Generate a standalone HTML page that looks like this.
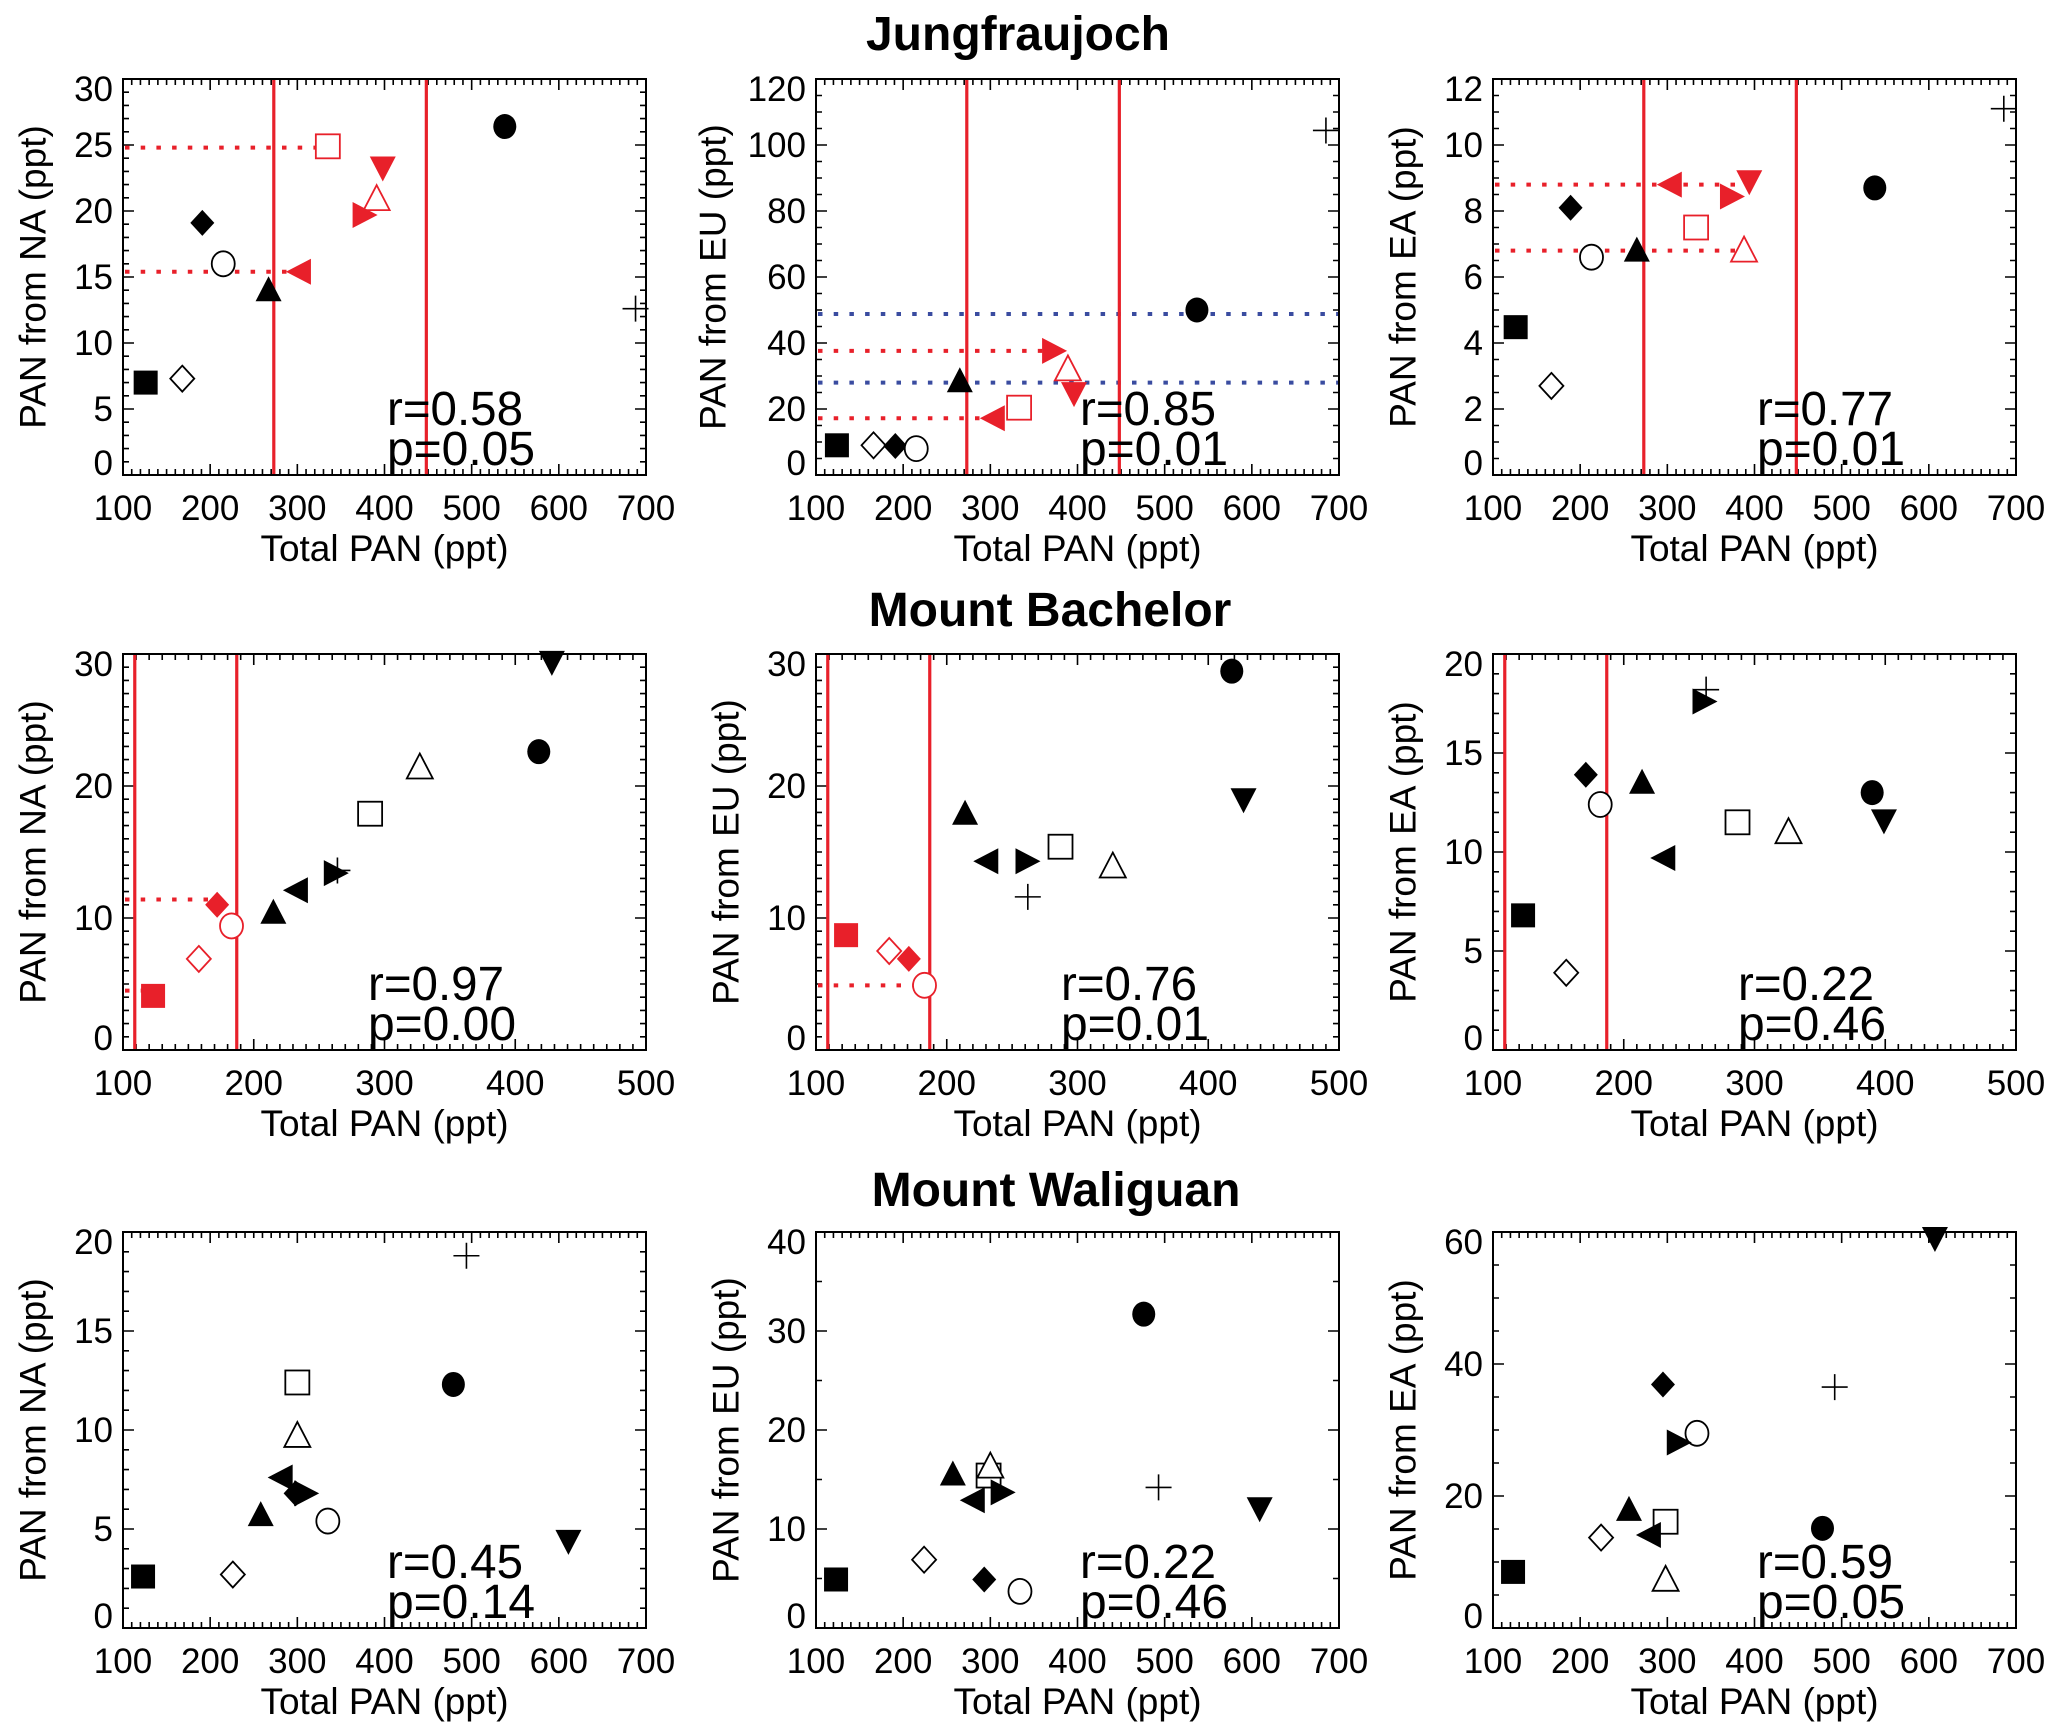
<!DOCTYPE html>
<html><head><meta charset="utf-8"><style>
html,body{margin:0;padding:0;background:#fff;}
svg{display:block;font-family:"Liberation Sans",Arial,sans-serif;}
</style></head><body>
<svg id="fig" width="2067" height="1732" viewBox="0 0 2067 1732" xmlns="http://www.w3.org/2000/svg"></svg>
<script>
// marker order: filled-square, open-diamond, filled-diamond, open-circle, filled-triangle-up,
// open-square, open-triangle, triangle-right, triangle-left, triangle-down, filled-circle, plus
const symbols = ['sq','odia','dia','ocirc','tri','osq','otri','rtri','ltri','dtri','circ','plus'];

const jfjNA_x = [126,168,191,215,267,335,391,376,303,398,538,688];
const jfjNA_y = [7.0,7.3,19.1,16.0,14.0,24.9,20.9,19.7,15.4,23.3,26.4,12.6];
const jfjEU_x = [124,166,191,215,265,333,389,372,304,396,537,685];
const jfjEU_y = [9,9,8.8,8,28.4,20.4,32,37.6,17.2,24.8,50,104.4];
const jfjEA_x = [126,167,189,213,265,333,388,373,304,394,538,686];
const jfjEA_y = [4.48,2.7,8.1,6.6,6.8,7.5,6.8,8.44,8.8,8.9,8.7,11.1];

const mboNA_x = [123,158,172,183,215,289,327,262,233,428,418,264];
const mboNA_y = [4.1,6.9,11.0,9.4,10.4,17.9,21.4,13.4,12.1,29.4,22.6,13.6];
const mboEU_x = [123,156,171,183,214,287,327,261,231,427,418,262];
const mboEU_y = [8.7,7.5,6.9,4.9,17.9,15.4,13.9,14.3,14.3,19.0,28.7,11.6];
const mboEA_x = [123,156,171,182,214,287,326,261,231,399,390,263];
const mboEA_y = [6.8,3.9,13.9,12.4,13.5,11.5,11.0,17.6,9.7,11.6,13.0,18.2];

const wlgNA_x = [123,226,298,335,258,300,300,309,282,611,479,494];
const wlgNA_y = [2.6,2.7,6.8,5.4,5.7,12.4,9.7,6.8,7.6,4.4,12.3,18.8];
const wlgEU_x = [123,224,293,334,257,298,300,313,281,609,476,493];
const wlgEU_y = [4.9,6.9,4.9,3.7,15.5,15.4,16.3,13.7,12.9,12.1,31.7,14.2];
const wlgEA_x = [123,224,295,334,256,298,298,312,280,607,478,492];
const wlgEA_y = [8.5,13.7,36.9,29.5,17.9,16.1,7.3,28.1,14.1,59.1,15.1,36.5];

const jfjVlines = [273,448];
const mboVlines = [109,187];
const statR = ['0.58','0.85','0.77','0.97','0.76','0.22','0.45','0.22','0.59'];
const statP = ['0.05','0.01','0.01','0.00','0.01','0.46','0.14','0.46','0.05'];
const regions = ['NA','EU','EA'];
const siteTitles = ['Jungfraujoch','Mount Bachelor','Mount Waliguan'];
const xTicks1 = [100,200,300,400,500,600,700];
const xTicks2 = [100,200,300,400,500];

const NS='http://www.w3.org/2000/svg';
const svg=document.getElementById('fig');
const RED='#e8202a', BLUE='#3a4ca0';
function el(tag,attrs,parent){const e=document.createElementNS(NS,tag);for(const k in attrs)e.setAttribute(k,attrs[k]);(parent||svg).appendChild(e);return e;}

const colL=[123,816,1493], rowT=[79,654,1232], W=523, H=396;

const panels=[
 {key:'jfj-na',r:0,c:0,xs:jfjNA_x,ys:jfjNA_y,xr:[100,700],yr:[0,30],ymaj:5,ymin:1,xmaj:100,xmin:10,vl:jfjVlines,hl:[[24.8,322,RED],[15.4,300,RED]],hi:true},
 {key:'jfj-eu',r:0,c:1,xs:jfjEU_x,ys:jfjEU_y,xr:[100,700],yr:[0,120],ymaj:20,ymin:5,xmaj:100,xmin:10,vl:jfjVlines,hl:[[48.8,null,BLUE],[28,null,BLUE],[37.6,365,RED],[17.2,298,RED]],hi:true,ytOff:103},
 {key:'jfj-ea',r:0,c:2,xs:jfjEA_x,ys:jfjEA_y,xr:[100,700],yr:[0,12],ymaj:2,ymin:0.5,xmaj:100,xmin:10,vl:jfjVlines,hl:[[8.8,392,RED],[6.8,383,RED]],hi:true},
 {key:'mbo-na',r:1,c:0,xs:mboNA_x,ys:mboNA_y,xr:[100,500],yr:[0,30],ymaj:10,ymin:1,xmaj:100,xmin:10,vl:mboVlines,hl:[[11.4,168,RED],[4.5,117,RED]],hi:true},
 {key:'mbo-eu',r:1,c:1,xs:mboEU_x,ys:mboEU_y,xr:[100,500],yr:[0,30],ymaj:10,ymin:1,xmaj:100,xmin:10,vl:mboVlines,hl:[[4.9,180,RED]],hi:true},
 {key:'mbo-ea',r:1,c:2,xs:mboEA_x,ys:mboEA_y,xr:[100,500],yr:[0,20],ymaj:5,ymin:1,xmaj:100,xmin:10,vl:mboVlines,hl:[],hi:false},
 {key:'wlg-na',r:2,c:0,xs:wlgNA_x,ys:wlgNA_y,xr:[100,700],yr:[0,20],ymaj:5,ymin:1,xmaj:100,xmin:10,vl:[],hl:[],hi:false},
 {key:'wlg-eu',r:2,c:1,xs:wlgEU_x,ys:wlgEU_y,xr:[100,700],yr:[0,40],ymaj:10,ymin:5,xmaj:100,xmin:10,vl:[],hl:[],hi:false},
 {key:'wlg-ea',r:2,c:2,xs:wlgEA_x,ys:wlgEA_y,xr:[100,700],yr:[0,60],ymaj:20,ymin:5,xmaj:100,xmin:10,vl:[],hl:[],hi:false}
];

const titleY=[50,626,1206], titleX=[1018,1050,1056];
siteTitles.forEach((t,i)=>{
 const tx=el('text',{x:titleX[i],y:titleY[i],'font-size':48,'font-weight':'bold','text-anchor':'middle',fill:'#000'});
 tx.textContent=t;
 
 
});

function marker(g,type,cx,cy,col){
 const filled=['sq','dia','tri','rtri','ltri','dtri','circ'].includes(type);
 const fill=filled?col:'#fff', sw=filled?0:1.8;
 let m;
 if(type==='sq'||type==='osq') m=el('rect',{x:cx-12,y:cy-12,width:24,height:24,fill:fill,stroke:col,'stroke-width':sw},g);
 else if(type==='circ'||type==='ocirc') m=el('ellipse',{cx:cx,cy:cy,rx:11.5,ry:12.5,fill:fill,stroke:col,'stroke-width':sw},g);
 else if(type==='dia'||type==='odia') m=el('polygon',{points:`${cx},${cy-13} ${cx+12},${cy} ${cx},${cy+13} ${cx-12},${cy}`,fill:fill,stroke:col,'stroke-width':sw},g);
 else if(type==='tri'||type==='otri') m=el('polygon',{points:`${cx},${cy-14} ${cx+13},${cy+11} ${cx-13},${cy+11}`,fill:fill,stroke:col,'stroke-width':sw},g);
 else if(type==='dtri') m=el('polygon',{points:`${cx-13},${cy-11} ${cx+13},${cy-11} ${cx},${cy+14}`,fill:fill},g);
 else if(type==='rtri') m=el('polygon',{points:`${cx-11},${cy-13} ${cx+14},${cy} ${cx-11},${cy+13}`,fill:fill},g);
 else if(type==='ltri') m=el('polygon',{points:`${cx+11},${cy-13} ${cx-14},${cy} ${cx+11},${cy+13}`,fill:fill},g);
 else { m=el('path',{d:`M${cx-13},${cy}H${cx+13}M${cx},${cy-13}V${cy+13}`,stroke:col,'stroke-width':1.6,fill:'none'},g); }
 return m;
}

panels.forEach((p,pi)=>{
 const L=colL[p.c], T=rowT[p.r], R=L+W, B=T+H;
 const g=el('g',{});
 
 
 const sx=v=>L+(v-p.xr[0])/(p.xr[1]-p.xr[0])*W;
 const sy=v=>B-(v-p.yr[0])/(p.yr[1]-p.yr[0])*H;
 let d='';
 const eps=1e-6;
 for(let v=p.xr[0];v<=p.xr[1]+eps;v+=p.xmin){
  const isMaj=Math.abs(((v-p.xr[0])/p.xmaj)-Math.round((v-p.xr[0])/p.xmaj))<eps;
  const len=isMaj?11:6, x=sx(v);
  d+=`M${x},${B}v${-len}M${x},${T}v${len}`;
 }
 for(let v=p.yr[0];v<=p.yr[1]+eps;v+=p.ymin){
  const isMaj=Math.abs((v/p.ymaj)-Math.round(v/p.ymaj))<eps;
  const len=isMaj?11:6, y=sy(v);
  d+=`M${L},${y}h${len}M${R},${y}h${-len}`;
 }
 el('path',{d:d,stroke:'#000','stroke-width':1.6,fill:'none'},g);
 p.hl.forEach((h,i)=>{
  const x2=h[1]===null?R:sx(h[1]);
  const ln=el('line',{x1:L+2,x2:x2,y1:sy(h[0]),y2:sy(h[0]),stroke:h[2],'stroke-width':4,'stroke-dasharray':'4.5 11.2'},g);
  
  
 });
 p.vl.forEach((v,i)=>{
  const ln=el('line',{x1:sx(v),x2:sx(v),y1:T,y2:B,stroke:RED,'stroke-width':3.2},g);
  
  
 });
 el('rect',{x:L,y:T,width:W,height:H,fill:'none',stroke:'#000','stroke-width':2},g);
 const xt=(p.xr[1]===700)?xTicks1:xTicks2;
 xt.forEach(v=>{
  const t=el('text',{x:sx(v),y:B+45,'font-size':35,'text-anchor':'middle'},g);
  t.textContent=v;
  
  
 });
 for(let v=p.yr[0];v<=p.yr[1]+eps;v+=p.ymaj){
  let yc=Math.min(Math.max(sy(v),T+10),B-12);
  const t=el('text',{x:L-10,y:yc+12,'font-size':35,'text-anchor':'end'},g);
  t.textContent=Math.round(v*100)/100;
  
  
 }
 const xtl=el('text',{x:L+W/2,y:B+86,'font-size':37,'text-anchor':'middle'},g);
 xtl.textContent='Total PAN (ppt)';
 
 
 const yx=L-(p.ytOff||90), ym=T+H/2;
 const ytl=el('text',{x:yx,y:ym,'font-size':37,'text-anchor':'middle','dominant-baseline':'central',transform:`rotate(-90 ${yx} ${ym})`},g);
 ytl.textContent='PAN from '+regions[p.c]+' (ppt)';
 
 
 p.xs.forEach((xv,i)=>{
  const red=p.hi && p.vl.length && xv>=p.vl[0] && xv<=p.vl[1];
  const m=marker(g,symbols[i],sx(xv),sy(p.ys[i]),red?RED:'#000');
  
  
 });
 const sxo=(p.r===1)?245:264;
 const rt=el('text',{x:L+sxo,y:T+346,'font-size':48,textLength:136,lengthAdjust:'spacingAndGlyphs'},g);
 rt.textContent='r='+statR[pi];
 
 
 const pt=el('text',{x:L+sxo,y:T+386,'font-size':48,textLength:148,lengthAdjust:'spacingAndGlyphs'},g);
 pt.textContent='p='+statP[pi];
 
 
});
</script>
</body></html>
